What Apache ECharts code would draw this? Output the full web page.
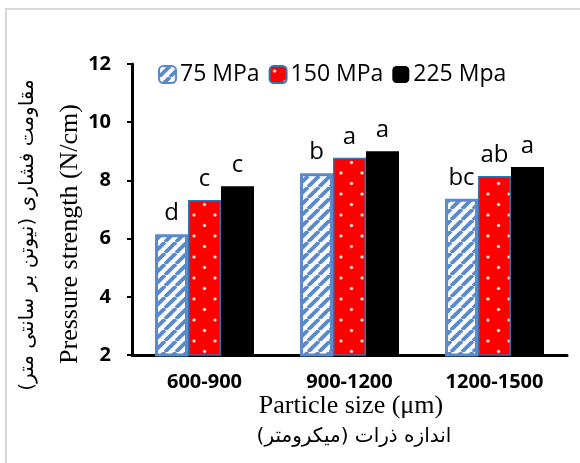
<!DOCTYPE html>
<html>
<head>
<meta charset="utf-8">
<script src="https://cdn.jsdelivr.net/npm/echarts@6/dist/echarts.min.js"></script>
<style>html,body{margin:0;padding:0;background:#fff}#c{width:580px;height:463px}</style>
</head>
<body>
<div id="c"></div>
<script>
// ---- data ----
var categories = ['600-900', '900-1200', '1200-1500'];
var seriesNames = ['75 MPa', '150 MPa', '225 Mpa'];
var values75 = [6.15, 8.25, 7.37];
var values150 = [7.33, 8.78, 8.15];
var values225 = [7.80, 9.00, 8.46];
var letters75 = ['d', 'b', 'bc'];
var letters150 = ['c', 'a', 'ab'];
var letters225 = ['c', 'a', 'a'];
var yTicks = [2, 4, 6, 8, 10, 12];
var yTitleEn = 'Pressure strength (N/cm)';
var yTitleFa = '\u200Fمقاومت فشاری (نیوتن بر سانتی متر)\u200F';
var xTitleEn = 'Particle size (μm)';
var xTitleFa = '\u200Fاندازه ذرات (میکرومتر)\u200F';

// ---- patterns ----
function stripePattern() {
  var s = 11, c = document.createElement('canvas');
  c.width = s; c.height = s;
  var g = c.getContext('2d');
  g.fillStyle = '#ffffff'; g.fillRect(0, 0, s, s);
  g.strokeStyle = '#5A8ACB'; g.lineWidth = 3.8;
  [-s, 0, s].forEach(function (k) {
    g.beginPath(); g.moveTo(k, s); g.lineTo(k + s, 0); g.stroke();
  });
  return c;
}
function dotPattern() {
  var s = 21, c = document.createElement('canvas');
  c.width = s; c.height = s;
  var g = c.getContext('2d');
  g.fillStyle = '#FF0000'; g.fillRect(0, 0, s, s);
  [[5, 5], [15.5, 15.5]].forEach(function (p) {
    g.fillStyle = 'rgba(255,200,200,0.8)';
    g.beginPath(); g.arc(p[0], p[1], 1.8, 0, Math.PI * 2); g.fill();
    g.fillStyle = '#ffffff';
    g.beginPath(); g.arc(p[0], p[1], 1.1, 0, Math.PI * 2); g.fill();
  });
  return c;
}

function mkSeries(name, vals, letters, itemStyle) {
  return {
    name: name, type: 'bar', barWidth: 33, barGap: '0%',
    data: vals,
    itemStyle: itemStyle,
    label: {
      show: true, position: 'top', distance: 9,
      fontFamily: 'Open Sans', fontSize: 24, color: '#000',
      formatter: function (p) { return letters[p.dataIndex]; }
    }
  };
}

var chart = echarts.init(document.getElementById('c'), null, { renderer: 'canvas' });
chart.setOption({
  animation: false,
  backgroundColor: '#fff',
  grid: { left: 132, right: 13, top: 64, bottom: 108, containLabel: false },
  legend: {
    left: 153, top: 58, itemWidth: 17, itemHeight: 17, itemGap: 9,
    textStyle: { fontFamily: 'Open Sans', fontSize: 23, color: '#000', padding: [0, 0, 0, -1] },
    data: seriesNames
  },
  xAxis: {
    type: 'category', data: categories,
    axisLine: { lineStyle: { color: '#000', width: 3 } },
    axisTick: { show: false },
    axisLabel: { fontFamily: 'Open Sans', fontWeight: 'bold', fontSize: 20, color: '#000', margin: 17 }
  },
  yAxis: {
    type: 'value', min: yTicks[0], max: yTicks[yTicks.length - 1], interval: 2,
    axisLine: { show: true, lineStyle: { color: '#000', width: 3 } },
    axisTick: { show: true, length: 5, lineStyle: { color: '#000', width: 2 } },
    splitLine: { show: false },
    axisLabel: { fontFamily: 'Open Sans', fontWeight: 'bold', fontSize: 20, color: '#000', margin: 21 }
  },
  series: [
    mkSeries(seriesNames[0], values75, letters75, { color: { image: stripePattern(), repeat: 'repeat' }, borderColor: '#5A8ACB', borderWidth: 3 }),
    mkSeries(seriesNames[1], values150, letters150, { color: { image: dotPattern(), repeat: 'repeat' }, borderColor: '#2E75B6', borderWidth: 1.5 }),
    mkSeries(seriesNames[2], values225, letters225, { color: '#000000', borderWidth: 0 })
  ],
  graphic: [
    { type: 'rect', z: -10, shape: { x: 6, y: 9, width: 700, height: 600 }, style: { fill: 'none', stroke: '#D9D9D9', lineWidth: 2 } },
    { type: 'text', x: 70, y: 234, rotation: Math.PI / 2, style: { text: yTitleEn, font: '26px "Liberation Serif"', fill: '#000', align: 'center', verticalAlign: 'middle' } },
    { type: 'text', x: 28, y: 235, rotation: Math.PI / 2, style: { text: yTitleFa, font: '20px "DejaVu Sans"', fill: '#000', align: 'center', verticalAlign: 'middle' } },
    { type: 'text', x: 351, y: 406, style: { text: xTitleEn, font: '26px "Liberation Serif"', fill: '#000', align: 'center', verticalAlign: 'middle' } },
    { type: 'text', x: 354, y: 437, style: { text: xTitleFa, font: '20px "DejaVu Sans"', fill: '#000', align: 'center', verticalAlign: 'middle' } }
  ]
});
</script>
</body>
</html>
